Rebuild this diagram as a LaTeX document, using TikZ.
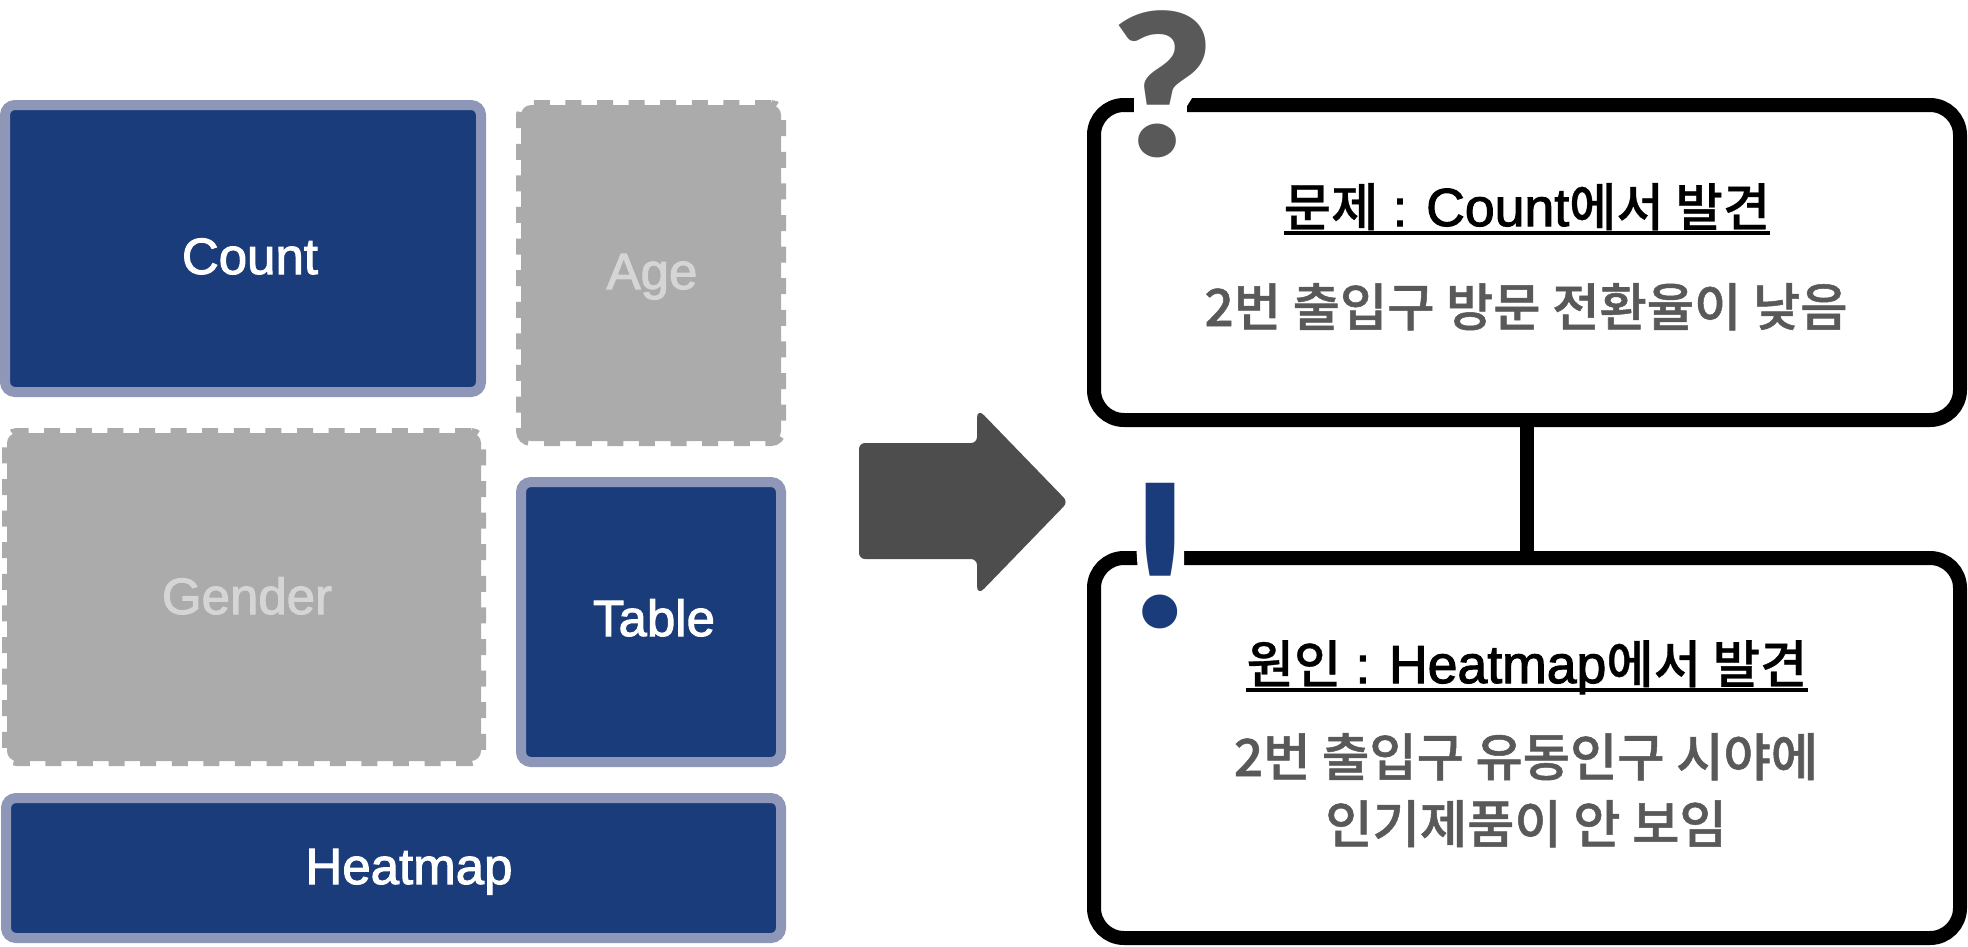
\documentclass[tikz,border=0pt]{standalone}
\usepackage{fontspec}
\setmainfont{Liberation Sans}[FakeBold=2]
\newfontfamily\krb{Noto Sans CJK KR Medium}[FakeBold=1]
\newfontfamily\krm{Noto Sans CJK KR Medium}[FakeBold=0.6]
\newfontfamily\lat{Liberation Sans}[FakeBold=2,Scale=1.04]
\newfontfamily\glyphf{Lato Black}
\definecolor{navy}{HTML}{1B3C7A}
\definecolor{navyedge}{HTML}{8E97B8}
\definecolor{dim}{HTML}{ABABAB}
\definecolor{dimtext}{HTML}{D5D5D5}
\definecolor{arrowgrey}{HTML}{4D4D4D}
\definecolor{bodygrey}{HTML}{595959}
\tikzset{
  panel/.style={draw=navyedge,fill=navy,line width=10pt,rounded corners=10pt,inner sep=0pt,outer sep=0pt},
  ghost/.style={draw=dim,fill=dim,line width=10pt,rounded corners=10pt,dash pattern=on 16pt off 15.6pt,inner sep=0pt,outer sep=0pt},
  callout/.style={draw=black,fill=white,line width=14pt,rounded corners=30pt,inner sep=0pt,outer sep=0pt},
  panellabel/.style={text=white,anchor=base,inner sep=0pt,font=\fontsize{51}{51}\selectfont},
  ghostlabel/.style={text=dimtext,anchor=base,inner sep=0pt,font=\fontsize{51}{51}\selectfont},
  titletext/.style={text=black,anchor=base,inner sep=0pt,font=\fontsize{51.5}{51.5}\selectfont},
  bodytext/.style={text=bodygrey,anchor=base,inner sep=0pt,font=\krb\fontsize{51.4}{51.4}\selectfont},
  mark glyph/.style={anchor=base,inner sep=0pt,font=\glyphf\fontsize{198}{198}\selectfont},
  rulerline/.style={black,line width=3.5pt},
}
\newcommand{\ttl}[3]{{\krm #1} : {\lat #2}{\krm #3}}
\begin{document}
\begin{tikzpicture}[x=1pt,y=-1pt]
\useasboundingbox (0,0) rectangle (1968,946);
% left panels
\node[panel,minimum width=476pt,minimum height=287pt] (count) at (243,248.5) {};
\node[ghost,minimum width=260pt,minimum height=336pt] (age) at (651,273) {};
\node[ghost,minimum width=474pt,minimum height=328pt] (gender) at (244,597) {};
\node[panel,minimum width=260pt,minimum height=280pt] (table) at (651,622) {};
\node[panel,minimum width=775pt,minimum height=140pt] (heatmap) at (393.5,868) {};
\node[panellabel] (countl) at (250,274) {Count};
\node[ghostlabel] (agel) at (652,289) {Age};
\node[ghostlabel] (genderl) at (247,614) {Gender};
\node[panellabel] (tablel) at (654,636) {Table};
\node[panellabel] (heatmapl) at (409,884) {Heatmap};
% arrow
\fill[arrowgrey,rounded corners=6pt] (859,443) -- (977,443) [rounded corners=10pt] -- (977,408) [rounded corners=6pt] -- (1068,502) [rounded corners=10pt] -- (977,596) [rounded corners=6pt] -- (977,559) -- (859,559) -- cycle;
% callouts
\node[callout,minimum width=866pt,minimum height=315pt] (problem) at (1527,262.5) {};
\node[callout,minimum width=866pt,minimum height=380pt] (cause) at (1527,748) {};
\draw[black,line width=14pt] (problem.south) -- (cause.north);
% gaps for marks
\fill[white] (1134,90) rectangle (1187,114);
\fill[white] (1187,90) -- (1197,90) -- (1187,106) -- cycle;
\fill[white] (1136,543) -- (1184,543) -- (1184,573) -- (1138,573) -- cycle;
\node[mark glyph,text=bodygrey,xscale=1.08] (q) at (1163,156) {?};
\node[mark glyph,text=navy] (ex) at (1160,627) {!};
% text
\node[titletext] (t1) at (1527,226) {\ttl{문제}{Count}{에서 발견}};
\draw[rulerline] ([yshift=-7pt]t1.base west) -- ([yshift=-7pt]t1.base east);
\node[bodytext] (b1) at (1526,326) {2번 출입구 방문 전환율이 낮음};
\node[titletext] (t2) at (1527,683) {\ttl{원인}{Heatmap}{에서 발견}};
\draw[rulerline] ([yshift=-7pt]t2.base west) -- ([yshift=-7pt]t2.base east);
\node[bodytext] (b2a) at (1526,776) {2번 출입구 유동인구 시야에};
\node[bodytext] (b2b) at (1526,843) {인기제품이 안 보임};
\end{tikzpicture}
\end{document}
